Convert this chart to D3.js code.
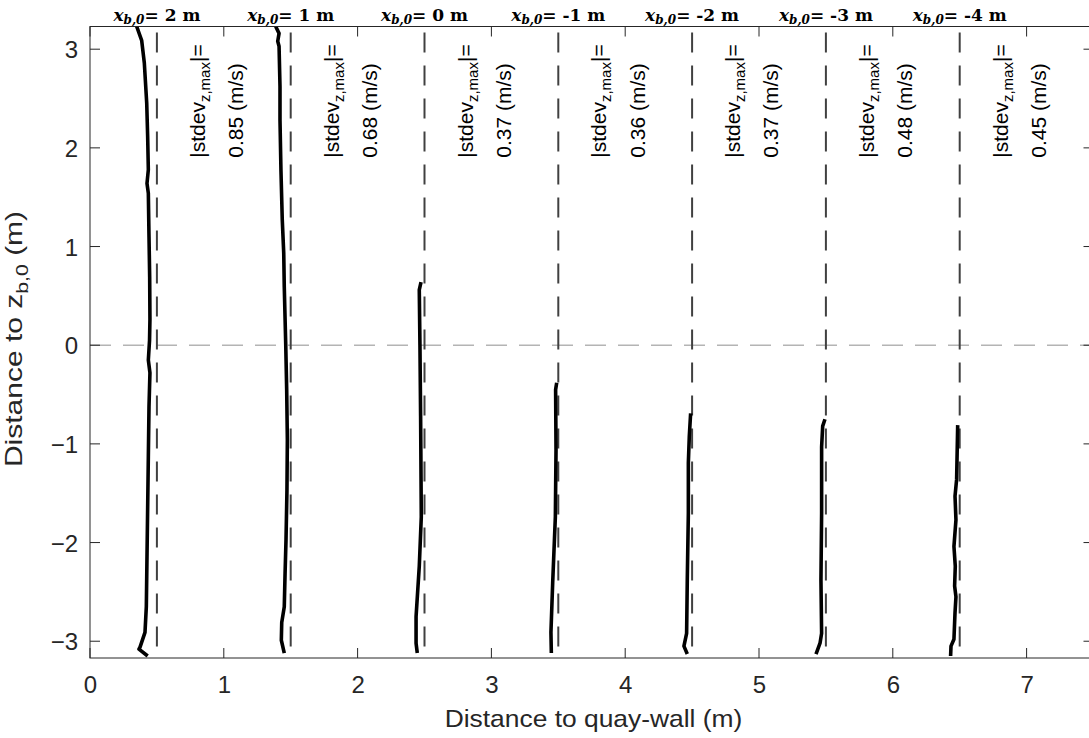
<!DOCTYPE html>
<html>
<head>
<meta charset="utf-8">
<script src="https://cdn.jsdelivr.net/npm/d3@7"></script>
<style>
  html, body { margin: 0; padding: 0; background: #fff; }
  svg { display: block; }
</style>
</head>
<body>
<svg id="chart" width="1089" height="738"></svg>
<script>
// ---- data ----
const xb0Labels = [2, 1, 0, -1, -2, -3, -4];              // x_{b,0} (m)
const stdevMax  = ["0.85", "0.68", "0.37", "0.36", "0.37", "0.48", "0.45"]; // |stdev_z,max| (m/s)
const wallLines = [0.5, 1.5, 2.5, 3.5, 4.5, 5.5, 6.5];     // dashed vertical reference lines
const xTicks = [0, 1, 2, 3, 4, 5, 6, 7];
const yTicks = [-3, -2, -1, 0, 1, 2, 3];

// profiles: [distance to quay-wall (m), distance to z_b,0 (m)]
const profile2m = [[0.349,3.23],[0.386,3.09],[0.406,2.86],[0.424,2.45],[0.431,2.11],[0.436,1.78],[0.426,1.64],[0.436,1.54],[0.441,1.10],[0.446,0.69],[0.448,0.26],[0.445,0.05],[0.436,-0.15],[0.448,-0.28],[0.441,-0.62],[0.436,-1.13],[0.431,-1.64],[0.426,-2.14],[0.421,-2.65],[0.411,-2.91],[0.374,-3.06],[0.366,-3.08],[0.431,-3.15]];
const profile1m = [[1.388,3.23],[1.413,3.16],[1.403,3.08],[1.413,3.03],[1.420,2.62],[1.420,2.28],[1.427,1.78],[1.437,1.27],[1.448,0.93],[1.452,0.59],[1.463,0.0],[1.470,-0.45],[1.475,-0.96],[1.472,-1.47],[1.465,-1.97],[1.458,-2.31],[1.452,-2.65],[1.433,-2.81],[1.430,-2.99],[1.452,-3.12]];
const profile0m = [[2.474,0.64],[2.461,0.56],[2.466,0.0],[2.471,-0.72],[2.476,-1.74],[2.461,-2.24],[2.437,-2.75],[2.437,-3.02],[2.446,-3.12]];
const profileM1m = [[3.488,-0.38],[3.480,-0.45],[3.483,-1.06],[3.478,-1.74],[3.458,-2.41],[3.445,-2.91],[3.448,-3.12]];
const profileM2m = [[4.489,-0.69],[4.479,-0.925],[4.472,-1.19],[4.472,-1.70],[4.464,-2.38],[4.459,-2.92],[4.439,-3.05],[4.464,-3.13]];
const profileM3m = [[5.493,-0.75],[5.476,-0.82],[5.468,-1.03],[5.468,-1.70],[5.463,-2.38],[5.468,-2.92],[5.456,-3.02],[5.426,-3.13]];
const profileM4m = [[6.485,-0.81],[6.477,-1.36],[6.465,-1.53],[6.472,-1.77],[6.457,-2.04],[6.467,-2.24],[6.462,-2.44],[6.472,-2.55],[6.465,-2.71],[6.457,-2.98],[6.435,-3.05],[6.432,-3.15]];
const profiles = [profile2m, profile1m, profile0m, profileM1m, profileM2m, profileM3m, profileM4m];

const xDomain = [0, 7.5];
const yDomain = [-3.17, 3.23];

// ---- layout ----
const L = 90, R = 1093.5, T = 26.5, B = 658;
const axisColor = "#262626";
const sans = "'Liberation Sans', Arial, Helvetica, sans-serif";
const serif = "'DejaVu Serif', serif";

const svg = d3.select("#chart");
const x = d3.scaleLinear().domain(xDomain).range([L, R]);
const y = d3.scaleLinear().domain(yDomain).range([B, T]);

svg.append("defs").append("clipPath").attr("id", "plotclip")
  .append("rect").attr("x", L).attr("y", T).attr("width", R - L).attr("height", B - T);

const plot = svg.append("g").attr("clip-path", "url(#plotclip)");

// zero line (light gray dashed)
plot.append("line")
  .attr("x1", x(xDomain[0])).attr("x2", x(xDomain[1]))
  .attr("y1", y(0)).attr("y2", y(0))
  .attr("stroke", "#b4b4b4").attr("stroke-width", 1.5)
  .attr("stroke-dasharray", "21,12");

// vertical dashed lines
plot.selectAll("line.wall").data(wallLines).join("line")
  .attr("class", "wall")
  .attr("x1", d => x(d)).attr("x2", d => x(d))
  .attr("y1", y(yDomain[1])).attr("y2", y(yDomain[0]))
  .attr("stroke", "#404040").attr("stroke-width", 2)
  .attr("stroke-dasharray", "20,13").attr("stroke-dashoffset", -6);

// profiles
const lineGen = d3.line().x(d => x(d[0])).y(d => y(d[1]));
plot.selectAll("path.profile").data(profiles).join("path")
  .attr("class", "profile")
  .attr("d", lineGen)
  .attr("fill", "none").attr("stroke", "#000")
  .attr("stroke-width", 3.6).attr("stroke-linejoin", "round").attr("stroke-linecap", "butt");

// ---- axes (MATLAB box style, inward ticks) ----
const tickLen = 10;
const axG = svg.append("g");
axG.append("rect").attr("x", L).attr("y", T).attr("width", R - L).attr("height", B - T)
  .attr("fill", "none").attr("stroke", axisColor).attr("stroke-width", 1);

const bottomAxis = d3.axisBottom(x).tickValues(xTicks).tickSize(0).tickFormat(d3.format("d"));
const gx = axG.append("g").attr("transform", `translate(0,${B})`).call(bottomAxis);
gx.select(".domain").remove();
gx.selectAll("text").attr("dy", null).attr("y", 35)
  .attr("font-family", sans).attr("font-size", 24).attr("fill", axisColor);

const leftAxis = d3.axisLeft(y).tickValues(yTicks).tickSize(0).tickFormat(d3.format("d"));
const gy = axG.append("g").attr("transform", `translate(${L},0)`).call(leftAxis);
gy.select(".domain").remove();
gy.selectAll("text").attr("x", -12).attr("dy", "0.36em")
  .attr("font-family", sans).attr("font-size", 24).attr("fill", axisColor);

// tick marks on all four sides
axG.selectAll("line.xt-b").data(xTicks).join("line")
  .attr("class", "xt-b")
  .attr("x1", d => x(d)).attr("x2", d => x(d)).attr("y1", B).attr("y2", B - tickLen)
  .attr("stroke", axisColor);
axG.selectAll("line.xt-t").data(xTicks).join("line")
  .attr("class", "xt-t")
  .attr("x1", d => x(d)).attr("x2", d => x(d)).attr("y1", T).attr("y2", T + tickLen)
  .attr("stroke", axisColor);
axG.selectAll("line.yt-l").data(yTicks).join("line")
  .attr("class", "yt-l")
  .attr("x1", L).attr("x2", L + tickLen).attr("y1", d => y(d)).attr("y2", d => y(d))
  .attr("stroke", axisColor);
axG.selectAll("line.yt-r").data(yTicks).join("line")
  .attr("class", "yt-r")
  .attr("x1", R).attr("x2", R - tickLen).attr("y1", d => y(d)).attr("y2", d => y(d))
  .attr("stroke", axisColor);

// axis labels
svg.append("text")
  .attr("transform", "translate(593.5,727) scale(1.1,1)")
  .attr("text-anchor", "middle")
  .attr("font-family", sans).attr("font-size", 24).attr("fill", axisColor)
  .text("Distance to quay-wall (m)");

const yl = svg.append("text")
  .attr("transform", "translate(22,339) rotate(-90) scale(1.25,1)")
  .attr("text-anchor", "middle")
  .attr("font-family", sans).attr("font-size", 24).attr("fill", axisColor);
yl.append("tspan").text("Distance to z");
yl.append("tspan").attr("font-size", 17).attr("dy", 6).text("b,0");
yl.append("tspan").attr("dy", -6).text(" (m)");

// top labels x_{b,0} = ... m
const topLabels = svg.selectAll("text.xb").data(xb0Labels).join("text")
  .attr("class", "xb")
  .attr("x", (d, i) => x(wallLines[i]))
  .attr("y", 21)
  .attr("text-anchor", "middle")
  .attr("font-family", serif).attr("font-weight", "bold").attr("font-size", 17).attr("fill", "#000");
topLabels.append("tspan").attr("font-style", "italic").text("x");
topLabels.append("tspan").attr("font-style", "italic").attr("font-size", 12).attr("dy", 3).text("b,0");
topLabels.append("tspan").attr("dy", -3).text(d => "= " + d + " m");

// rotated |stdev_{z,max}| annotations
const annStartZ = 1.9;
const ann1 = svg.selectAll("text.ann1").data(stdevMax).join("text")
  .attr("class", "ann1")
  .attr("transform", (d, i) => `translate(${x(wallLines[i] + 0.36)},${y(annStartZ)}) rotate(-90)`)
  .attr("font-family", sans).attr("font-size", 21).attr("fill", "#000");
ann1.append("tspan").text("|stdev");
ann1.append("tspan").attr("font-size", 15).attr("dy", 5).text("z,max");
ann1.append("tspan").attr("dy", -5).text("|=");

svg.selectAll("text.ann2").data(stdevMax).join("text")
  .attr("class", "ann2")
  .attr("transform", (d, i) => `translate(${x(wallLines[i] + 0.645)},${y(annStartZ)}) rotate(-90)`)
  .attr("font-family", sans).attr("font-size", 21).attr("fill", "#000")
  .text(d => d + " (m/s)");
</script>
</body>
</html>
